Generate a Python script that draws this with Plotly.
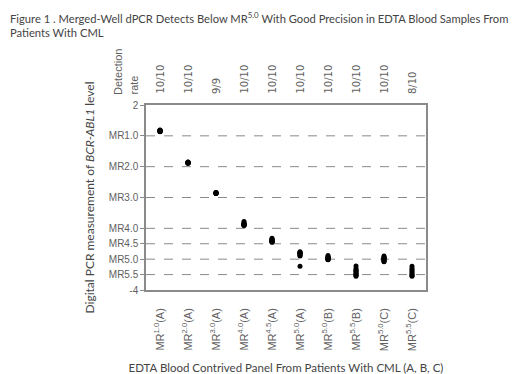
import plotly.graph_objects as go

categories = ["MR<sup>1.0</sup>(A)", "MR<sup>2.0</sup>(A)", "MR<sup>3.0</sup>(A)", "MR<sup>4.0</sup>(A)",
              "MR<sup>4.5</sup>(A)", "MR<sup>5.0</sup>(A)", "MR<sup>5.0</sup>(B)", "MR<sup>5.5</sup>(B)",
              "MR<sup>5.0</sup>(C)", "MR<sup>5.5</sup>(C)"]
detection_rates = ["10/10", "10/10", "9/9", "10/10", "10/10", "10/10", "10/10", "10/10", "10/10", "8/10"]

# log10 BCR-ABL1 (%) measurements per sample group
mr10_a = [1.18, 1.16, 1.15, 1.17, 1.14, 1.19, 1.13, 1.16, 1.15, 1.17]
mr20_a = [0.14, 0.13, 0.12, 0.13, 0.15, 0.12, 0.11, 0.14, 0.13, 0.12]
mr30_a = [-0.84, -0.85, -0.86, -0.85, -0.84, -0.86, -0.87, -0.85, -0.86]
mr40_a = [-1.78, -1.82, -1.86, -1.88, -1.87, -1.90, -1.89, -1.85, -1.91, -1.88]
mr45_a = [-2.32, -2.35, -2.38, -2.40, -2.42, -2.44, -2.45, -2.41, -2.37, -2.43]
mr50_a = [-2.76, -2.78, -2.80, -2.82, -2.79, -2.85, -2.88, -2.83, -2.90, -3.23]
mr50_b = [-2.88, -2.92, -2.95, -2.98, -3.00, -3.02, -2.96, -2.93, -3.01, -2.97]
mr55_b = [-3.22, -3.30, -3.35, -3.38, -3.40, -3.45, -3.50, -3.52, -3.55, -3.48]
mr50_c = [-2.90, -2.93, -2.95, -2.98, -3.00, -3.05, -3.08, -3.06, -3.02, -2.97]
mr55_c = [-3.23, -3.30, -3.35, -3.40, -3.45, -3.50, -3.53, -3.55]
groups = [mr10_a, mr20_a, mr30_a, mr40_a, mr45_a, mr50_a, mr50_b, mr55_b, mr50_c, mr55_c]

y_tickvals = [2, 1, 0, -1, -2, -2.5, -3, -3.5, -4]
y_ticktext = ["2", "MR1.0", "MR2.0", "MR3.0", "MR4.0", "MR4.5", "MR5.0", "MR5.5", "-4"]
grid_levels = [1, 0, -1, -2, -2.5, -3, -3.5]

xs, ys = [], []
for i, g in enumerate(groups):
    xs += [i] * len(g)
    ys += g

fig = go.Figure()
fig.add_trace(go.Scatter(
    x=xs, y=ys, mode="markers",
    marker=dict(color="black", size=5), showlegend=False, hoverinfo="y",
))

grey = "#5f5f5f"
# the page body adds an 8px margin, so the figure is 8px smaller and margins are offset
fig.update_layout(
    width=512, height=366,
    margin=dict(l=138, r=94, t=97, b=84, autoexpand=False),
    paper_bgcolor="white", plot_bgcolor="white",
    font=dict(family="Liberation Sans, Arial", color=grey, size=10),
    showlegend=False,
    xaxis=dict(
        range=[-0.5, 9.5], tickvals=list(range(10)), ticktext=categories, tickangle=-90,
        showgrid=False, zeroline=False, showline=True, linecolor="#8a8a8a", linewidth=1.5,
        mirror=True, ticks="", ticklabelstandoff=12, tickfont=dict(size=11, color=grey),
        automargin=False,
        title=dict(text="EDTA Blood Contrived Panel From Patients With CML (A, B, C)",
                   font=dict(family="Lato, Open Sans", size=11.5, color="#444"), standoff=24),
    ),
    yaxis=dict(
        range=[-4, 2], tickvals=y_tickvals, ticktext=y_ticktext,
        showgrid=False, automargin=False,
        zeroline=False, showline=True, linecolor="#8a8a8a", linewidth=1.5, mirror=True,
        ticks="outside", ticklen=4, tickcolor="#8a8a8a", tickfont=dict(size=10, color=grey),
        title=dict(text="Digital PCR measurement of <i>BCR-ABL1</i> level",
                   font=dict(family="Lato, Open Sans", size=12, color="#444"), standoff=12),
    ),
)

for lv in grid_levels:
    fig.add_shape(type="line", xref="paper", yref="y", x0=0, x1=1, y0=lv, y1=lv,
                  line=dict(color="#8a8a8a", width=1, dash="dash"), layer="below")

fig.add_annotation(
    text="Figure 1 . Merged-Well dPCR Detects Below MR<sup>5.0</sup> With Good Precision in EDTA Blood Samples From<br>Patients With CML",
    font=dict(family="Lato, Open Sans", size=11.2, color="#444"),
    x=0, xref="paper", xanchor="left", xshift=-138, y=1, yref="paper", yanchor="top", yshift=97,
    align="left", showarrow=False,
)

for i, r in enumerate(detection_rates):
    fig.add_annotation(x=i, y=1, xref="x", yref="paper", text=r, textangle=-90,
                       showarrow=False, xanchor="center", yanchor="bottom", yshift=9,
                       font=dict(family="DejaVu Sans", size=10, color=grey))
for txt, dx in [("Detection", -28), ("rate", -13)]:
    fig.add_annotation(x=-0.5, y=1, xref="x", yref="paper", xshift=dx, text=txt,
                       textangle=-90, showarrow=False, xanchor="center", yanchor="bottom", yshift=8,
                       font=dict(family="Liberation Sans, Arial", size=11, color=grey))

fig.write_html("out.html", config={"displayModeBar": False})
